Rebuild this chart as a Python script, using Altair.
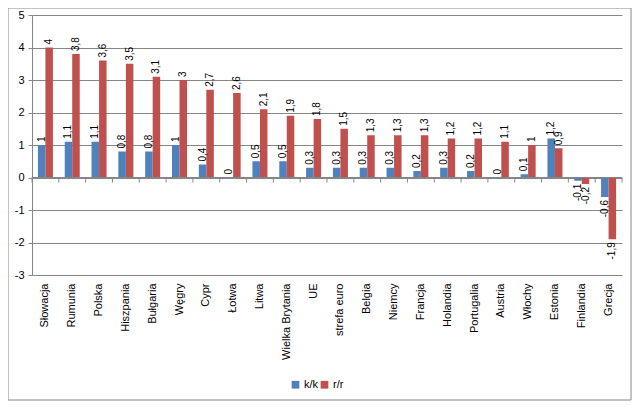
import altair as alt
import pandas as pd

# kraje w kolejności z wykresu
kraje = ["Słowacja", "Rumunia", "Polska", "Hiszpania", "Bułgaria", "Węgry", "Cypr",
         "Łotwa", "Litwa", "Wielka Brytania", "UE", "strefa euro", "Belgia", "Niemcy",
         "Francja", "Holandia", "Portugalia", "Austria", "Włochy", "Estonia",
         "Finlandia", "Grecja"]
kk = [1, 1.1, 1.1, 0.8, 0.8, 1, 0.4, 0, 0.5, 0.5, 0.3, 0.3, 0.3, 0.3, 0.2, 0.3,
      0.2, 0, 0.1, 1.2, -0.1, -0.6]
rr = [4, 3.8, 3.6, 3.5, 3.1, 3, 2.7, 2.6, 2.1, 1.9, 1.8, 1.5, 1.3, 1.3, 1.3, 1.2,
      1.2, 1.1, 1, 0.9, -0.2, -1.9]
serie = ["k/k", "r/r"]
kolory = ["#4F81BD", "#C0504D"]
y_ticks = [-3, -2, -1, 0, 1, 2, 3, 4, 5]

rows = []
for k, a, b in zip(kraje, kk, rr):
    for s, v in zip(serie, [a, b]):
        rows.append({"kraj": k, "seria": s, "wartosc": v,
                     "etykieta": f"{v:g}".replace(".", ",")})
df = pd.DataFrame(rows)

W, H = 590, 260
FONT = "Liberation Sans"
PAD_IN, PAD_OUT = 0.44, 0.22
half_gap = PAD_OUT * W / (len(kraje) - PAD_IN + 2 * PAD_OUT)

x = alt.X("kraj:N", sort=kraje, title=None,
          scale=alt.Scale(paddingInner=PAD_IN, paddingOuter=PAD_OUT),
          axis=alt.Axis(labelAngle=270, labelAlign="right", labelBaseline="middle",
                        labelPadding=8, labelFontSize=11, labelFont=FONT,
                        labelColor="black", domain=False, ticks=False))
xo = alt.XOffset("seria:N", sort=serie, scale=alt.Scale(paddingInner=0))
y_scale = alt.Scale(domain=[-3, 5], nice=False, zero=False)
y_axis = alt.Axis(values=y_ticks, tickCount=20, labelFontSize=11, labelFont=FONT,
                  labelExpr="'' + datum.value", labelOverlap=False,
                  labelColor="black", gridColor="#868686", domainColor="#868686",
                  tickColor="#868686", tickSize=4, labelPadding=4)
y = alt.Y("wartosc:Q", title=None, scale=y_scale, axis=y_axis)
y0 = alt.YDatum(0, scale=y_scale, axis=y_axis, title=None)

base = alt.Chart(df)

bars = base.mark_bar().encode(
    x=x, xOffset=xo, y=y,
    color=alt.Color("seria:N", sort=serie,
                    scale=alt.Scale(domain=serie, range=kolory),
                    legend=alt.Legend(title=None, orient="none", direction="horizontal",
                                      legendX=258, legendY=364, symbolType="square",
                                      symbolSize=60, labelFontSize=11, labelFont=FONT,
                                      columnPadding=0, labelOffset=3,
                                      symbolStrokeWidth=0)),
)

plus = base.transform_filter("datum.wartosc >= 0").mark_text(
    angle=270, align="left", baseline="middle", dx=3, fontSize=10, font=FONT,
    color="black").encode(x=x, xOffset=xo, y=y, text="etykieta:N")

minus = base.transform_filter("datum.wartosc < 0").mark_text(
    angle=270, align="right", baseline="middle", dx=-3, fontSize=10, font=FONT,
    color="black").encode(x=x, xOffset=xo, y=y, text="etykieta:N")

zero = alt.Chart(pd.DataFrame({"z": [0]})).mark_rule(color="#868686").encode(y=y0)

# podziałki kategorii na linii zera
ticks = alt.Chart(pd.DataFrame({"kraj": kraje})).mark_rule(
    color="#868686", y2Offset=5, xOffset=-half_gap).encode(
    x=alt.X("kraj:N", sort=kraje, bandPosition=0),
    y=y0, y2=alt.datum(0))
tick_end = alt.Chart(pd.DataFrame({"kraj": [kraje[-1]]})).mark_rule(
    color="#868686", y2Offset=5, xOffset=half_gap).encode(
    x=alt.X("kraj:N", sort=kraje, bandPosition=1),
    y=y0, y2=alt.datum(0))

frame = alt.Chart(pd.DataFrame({"a": [0]})).mark_rect(
    fill=None, stroke="#868686", strokeWidth=1).encode(
    x=alt.value(-24), x2=alt.value(599), y=alt.value(-7), y2=alt.value(385))

chart = alt.layer(frame, bars, zero, ticks, tick_end, plus, minus).properties(
    width=W, height=H,
    autosize=alt.AutoSizeParams(type="none"),
    padding={"left": 24, "top": 7, "right": 10, "bottom": 126},
    background="white",
).configure_view(stroke=None)

chart.save("out.html", embed_options={"renderer": "svg", "actions": False})
